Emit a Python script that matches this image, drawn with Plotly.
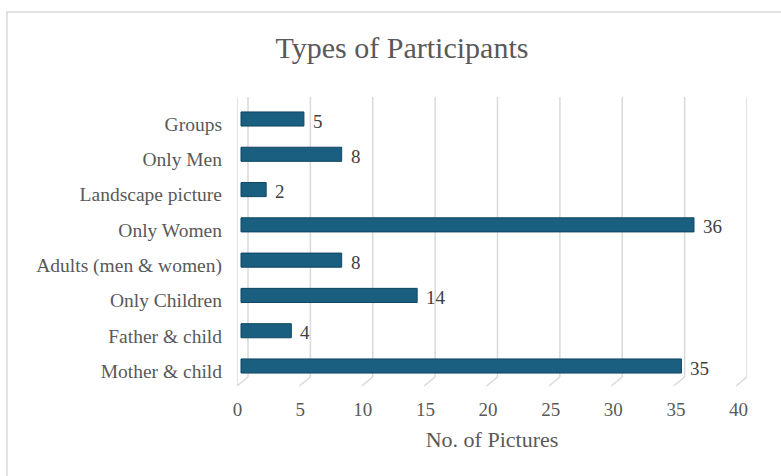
import plotly.graph_objects as go

categories = ["Groups", "Only Men", "Landscape picture", "Only Women",
              "Adults (men & women)", "Only Children", "Father & child", "Mother & child"]
values = [5, 8, 2, 36, 8, 14, 4, 35]
tick_values = [0, 5, 10, 15, 20, 25, 30, 35, 40]
tick_labels = [str(t) for t in tick_values]

W, H = 781, 476
L, R = 237, 747          # plot domain in px (x)
T, B = 97, 386           # plot domain in px (y)
PW, PH = R - L, B - T

FONT = "Liberation Serif"
TXT = "#595959"
GRID = "#d9d9d9"

def xr(px0_val0, px_per_unit):
    start = -(px0_val0 - L) / px_per_unit
    return [start, start + PW / px_per_unit]

fig = go.Figure()
# invisible carrier so the tick-label axis is drawn
fig.add_trace(go.Scatter(x=tick_values, y=[categories[0]] * len(tick_values),
                         mode="none", xaxis="x", hoverinfo="skip", showlegend=False))
fig.add_trace(go.Bar(
    y=categories, x=values, orientation="h", xaxis="x2",
    marker=dict(color="#1a5f80", line=dict(color="#0f4662", width=1)),
    cliponaxis=False, width=0.4,
))

annotations = [
    dict(x=v, y=c, xref="x2", yref="y", text=str(v), showarrow=False,
         xanchor="left", yanchor="middle", xshift=7, yshift=-2,
         font=dict(family=FONT, size=19, color="#404040"))
    for c, v in zip(categories, values)
]

shapes = []
back_scale = 12.475
slant = 11 / back_scale
yb = (B - 377) / PH
for v in tick_values:
    shapes.append(dict(type="line", xref="x3", yref="paper", x0=v, x1=v, y0=yb, y1=1,
                       line=dict(color=GRID, width=1.5), layer="below"))
    shapes.append(dict(type="line", xref="x3", yref="paper", x0=v, x1=v - slant, y0=yb, y1=0,
                       line=dict(color=GRID, width=1.5), layer="below"))
shapes.append(dict(type="line", xref="x3", yref="paper", x0=-slant, x1=-slant, y0=0, y1=1,
                   line=dict(color=GRID, width=1.5), layer="below"))
# chart border
shapes.append(dict(type="rect", xref="paper", yref="paper",
                   x0=(7 - L) / PW, x1=(800 - L) / PW, y0=(B - 500) / PH, y1=(B - 12) / PH,
                   line=dict(color="#d9d9d9", width=1.5), layer="below"))

fig.update_layout(
    width=W, height=H,
    margin=dict(l=L, r=W - R, t=T, b=H - B),
    paper_bgcolor="white", plot_bgcolor="rgba(0,0,0,0)",
    showlegend=False,
    font=dict(family=FONT, color=TXT, size=19),
    title=dict(text="Types of Participants", x=402 / W, xanchor="center",
               y=1 - 47 / H, yanchor="middle", yref="container",
               font=dict(family=FONT, size=30, color=TXT)),
    xaxis=dict(range=xr(237.5, 12.525), tickvals=tick_values, ticktext=tick_labels,
               showgrid=False, zeroline=False, showline=False,
               tickfont=dict(family=FONT, size=19, color=TXT),
               ticklabelstandoff=10,
               title=dict(text="No. of Pictures", font=dict(family=FONT, size=22, color=TXT),
                          standoff=12)),
    xaxis2=dict(range=xr(241, 12.583), overlaying="x", visible=False),
    xaxis3=dict(range=xr(248, back_scale), overlaying="x", visible=False),
    yaxis=dict(categoryorder="array", categoryarray=categories,
               range=[7 + (B - 366) / 35.29, -(119 - T) / 35.29],
               showgrid=False, zeroline=False, showline=False,
               tickfont=dict(family=FONT, size=19.5, color=TXT),
               ticklabelstandoff=14, ticklabelshift=-5),
    shapes=shapes,
    annotations=annotations,
)

fig.write_html("out.html")
